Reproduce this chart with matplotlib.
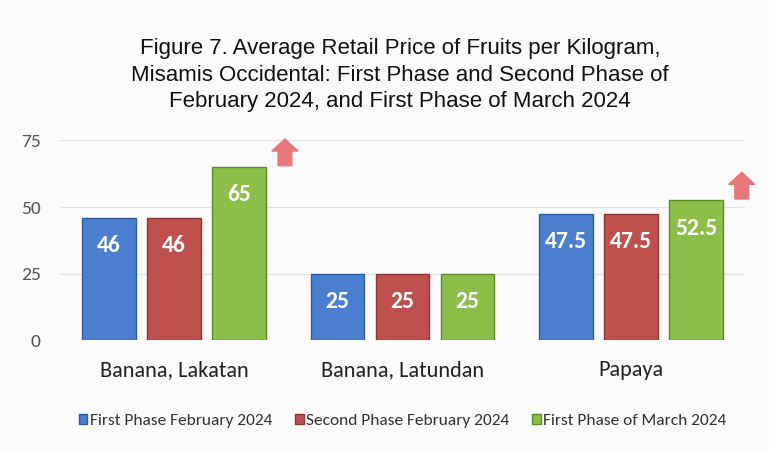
import numpy as np
import matplotlib.pyplot as plt
from matplotlib.patches import FancyArrow

# chart data
categories = ['Banana, Lakatan', 'Banana, Latundan', 'Papaya']
series_names = ['First Phase February 2024', 'Second Phase February 2024', 'First Phase of March 2024']
first_feb = [46, 25, 47.5]
second_feb = [46, 25, 47.5]
first_mar = [65, 25, 52.5]
value_labels = [['46', '25', '47.5'], ['46', '25', '47.5'], ['65', '25', '52.5']]
yticks = [0, 25, 50, 75]
# categories that got an "increase" arrow
increased = [0, 2]

colors = ['#4a7fcf', '#c0504d', '#8dbf48']
edges = ['#2f5c9e', '#8e3633', '#5f8a2a']

plt.rcParams['font.family'] = ['Carlito', 'Liberation Sans', 'DejaVu Sans']

fig = plt.figure(figsize=(7.69, 4.5), dpi=100)
fig.patch.set_facecolor('#fbfbfb')
ax = fig.add_axes([0.078, 0.244, 0.891, 0.444])
ax.set_facecolor('#fbfbfb')

x = np.arange(len(categories))
width = 0.235
offsets = [-0.285, 0, 0.285]
series = [first_feb, second_feb, first_mar]

for i, vals in enumerate(series):
    bars = ax.bar(x + offsets[i], vals, width, color=colors[i], edgecolor=edges[i],
                  linewidth=1.0, label=series_names[i], zorder=3)
    for b, lab in zip(bars, value_labels[i]):
        ax.annotate(lab, (b.get_x() + b.get_width() / 2, b.get_height()),
                    xytext=(0, -20), textcoords='offset points',
                    ha='center', va='center', color='white', fontsize=17,
                    fontweight='bold', zorder=4)

# red up arrows beside the March bars
for k in increased:
    ax.add_patch(FancyArrow(k + 0.485, first_mar[k] + 0.5, 0, 10, width=0.06,
                            head_width=0.115, head_length=4.5, length_includes_head=True,
                            color='#e8777a', zorder=4, clip_on=False))

ax.set_xlim(-0.5, 2.5)
ax.set_ylim(0, 75)
ax.set_yticks(yticks)
ax.set_yticklabels([str(t) for t in yticks], color='#555555', fontsize=14)
ax.set_xticks(x)
ax.set_xticklabels(categories, fontsize=16, color='#222222')
ax.tick_params(axis='x', length=0, pad=14)
ax.tick_params(axis='y', length=0, pad=14)
ax.grid(axis='y', color='#e2e2e2', linewidth=0.8, zorder=0)
for s in ax.spines.values():
    s.set_visible(False)

fig.text(0.52, 0.833, 'Figure 7. Average Retail Price of Fruits per Kilogram,\n'
         'Misamis Occidental: First Phase and Second Phase of\n'
         'February 2024, and First Phase of March 2024',
         ha='center', va='center', fontsize=16, color='#111111',
         family=['Liberation Sans', 'DejaVu Sans'], linespacing=1.35)

ax.legend(loc='upper center', bbox_to_anchor=(0.5, -0.29), ncol=3, frameon=False,
          fontsize=12.5, handlelength=0.5, handleheight=0.5, handletextpad=0.15,
          columnspacing=1.3, labelcolor='#333333')

fig.savefig('out.png', dpi=100, facecolor=fig.get_facecolor())
